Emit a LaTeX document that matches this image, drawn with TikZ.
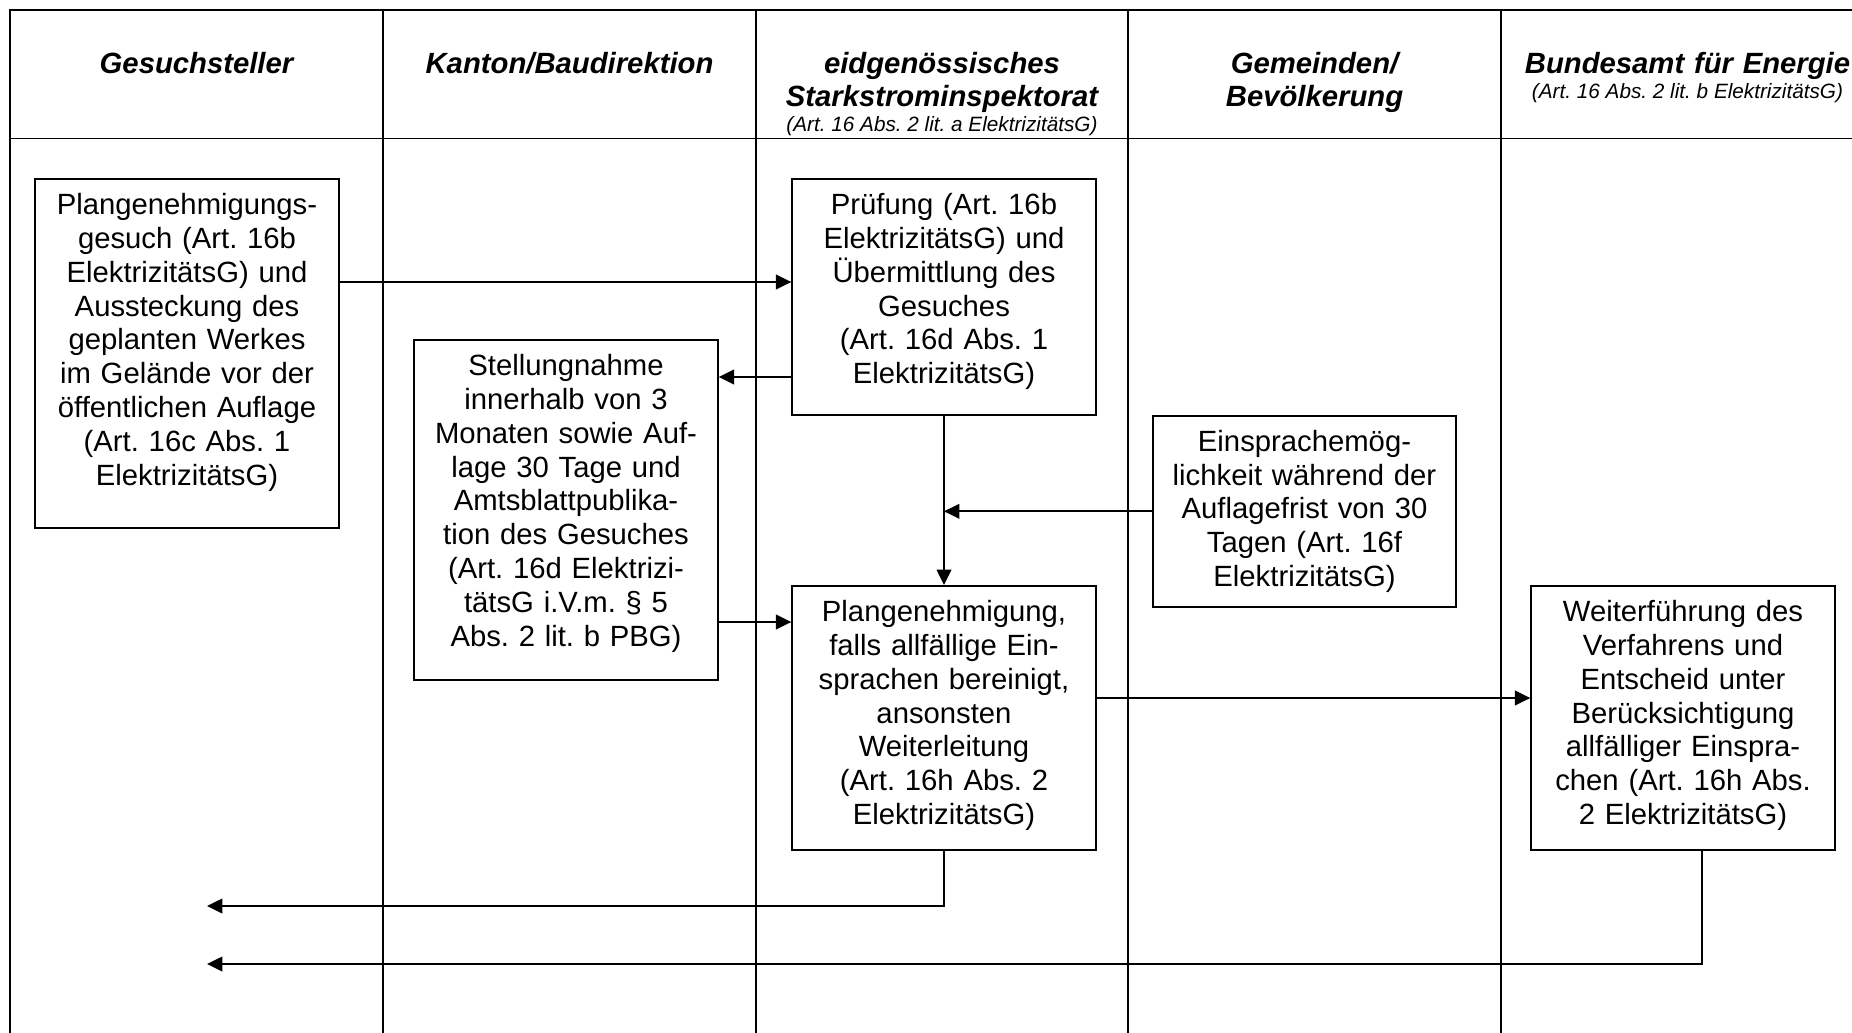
\documentclass[tikz,border=0pt]{standalone}
\usepackage{fontspec}
\setmainfont{Liberation Sans}
\frenchspacing
\usetikzlibrary{arrows.meta}

\tikzset{
	frame/.style = {line width=0.8pt},
	box/.style = {draw, line width=0.8pt, anchor=north, text width=118pt, align=center,
		inner xsep=3.2pt, inner ysep=5.7pt, text height=9pt,
		font=\fontsize{12pt}{13.85pt}\selectfont},
	head/.style = {anchor=base, text width=150pt, align=center, inner sep=0pt,
		font=\fontsize{12pt}{13.5pt}\selectfont\bfseries\itshape},
	note/.style = {anchor=base, inner sep=0pt, font=\fontsize{8.5pt}{10pt}\selectfont\itshape},
	arr/.style = {line width=0.7pt, -{Triangle[length=6.3pt,width=6pt]}}
}

\begin{document}
\begin{tikzpicture}[x=0.41pt, y=-0.41pt]
	\useasboundingbox (0,0) rectangle (1852,1033);
	\clip (0,0) rectangle (1852,1033);

	% table
	\draw[frame] (10,1040) -- (10,10) -- (1880,10);
	\draw[frame] (10,138.5) -- (1880,138.5);
	\foreach \x in {383,756,1128,1501}
		\draw[frame] (\x,10) -- (\x,1040);

	% column heads
	\node[head] (hGesuch) at (196.5,73.5) {Gesuchsteller};
	\node[head] (hKanton) at (569.5,73.5) {Kanton/Baudirektion};
	\node[head] (hESTI) at (942,73.5) {eidgenössisches\\Starkstrominspektorat};
	\node[note] (nESTI) at (942,131.5) {(Art. 16 Abs. 2 lit. a ElektrizitätsG)};
	\node[head] (hGemeinden) at (1314.5,73.5) {Gemeinden/\\Bevölkerung};
	\node[head] (hBFE) at (1687.5,73.5) {Bundesamt für Energie};
	\node[note] (nBFE) at (1687.5,99) {(Art. 16 Abs. 2 lit. b ElektrizitätsG)};

	% steps
	\node[box, text depth=122.7pt] (gesuch) at (187,178) {Plangenehmigungs-\\gesuch (Art. 16b\\ElektrizitätsG) und\\Aussteckung des\\geplanten Werkes\\im Gelände vor der\\öffentlichen Auflage\\(Art. 16c Abs. 1\\ElektrizitätsG)};
	\node[box, text depth=119pt] (stellung) at (566,339) {Stellungnahme\\innerhalb von 3\\Monaten sowie Auf-\\lage 30 Tage und\\Amtsblattpublika-\\tion des Gesuches\\(Art. 16d Elektrizi-\\tätsG i.V.m. § 5\\Abs. 2 lit. b PBG)};
	\node[box, text depth=76.4pt] (pruefung) at (944,178) {Prüfung (Art. 16b\\ElektrizitätsG) und\\Übermittlung des\\Gesuches\\(Art. 16d Abs. 1\\ElektrizitätsG)};
	\node[box, text depth=58.1pt] (einsprache) at (1304.5,414.6) {Einsprachemög-\\lichkeit während der\\Auflagefrist von 30\\Tagen (Art. 16f\\ElektrizitätsG)};
	\node[box, text depth=88pt] (genehmigung) at (944,585) {Plangenehmigung,\\falls allfällige Ein-\\sprachen bereinigt,\\ansonsten\\Weiterleitung\\(Art. 16h Abs. 2\\ElektrizitätsG)};
	\node[box, text depth=88pt] (weiter) at (1683,585) {Weiterführung des\\Verfahrens und\\Entscheid unter\\Berücksichtigung\\allfälliger Einspra-\\chen (Art. 16h Abs.\\2 ElektrizitätsG)};

	\coordinate (rueckA) at (207,906);
	\coordinate (rueckB) at (207,964);

	% flow
	\draw[arr] (gesuch.east |- 0,282) -- (pruefung.west |- 0,282);
	\draw[arr] (pruefung.west |- 0,377) -- (stellung.east |- 0,377);
	\draw[arr] (stellung.east |- 0,622) -- (genehmigung.west |- 0,622);
	\draw[arr] (pruefung.south) -- (genehmigung.north);
	\draw[arr] (einsprache.west) -- (einsprache.west -| pruefung.south);
	\draw[arr] (genehmigung.east |- 0,698) -- (weiter.west |- 0,698);
	\draw[arr] (genehmigung.south) |- (rueckA);
	\draw[arr] (weiter.south -| 1702,0) |- (rueckB);
\end{tikzpicture}
\end{document}
